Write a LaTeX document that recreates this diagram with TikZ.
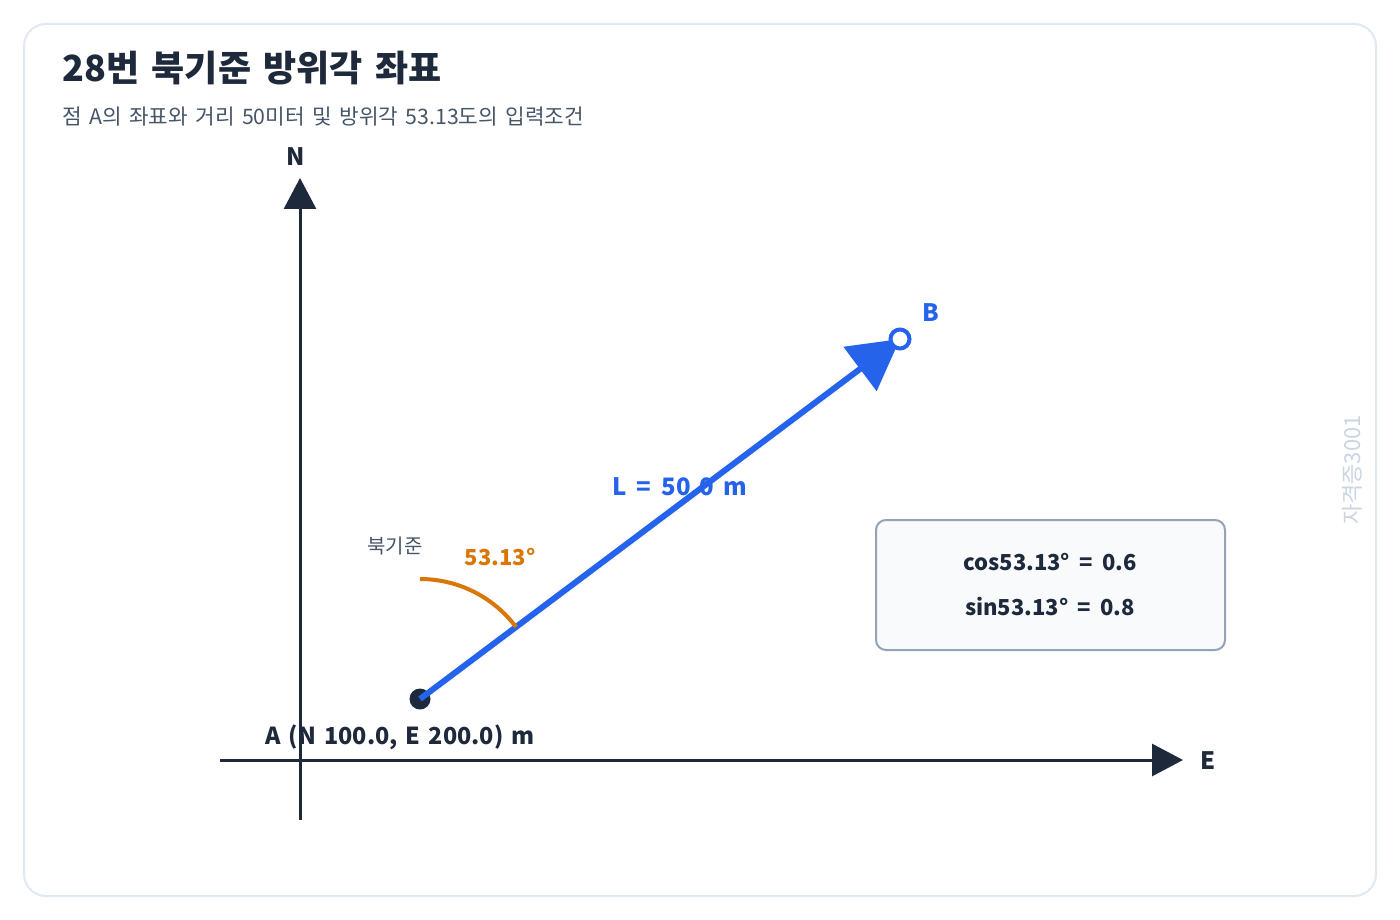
\documentclass[tikz,border=0pt]{standalone}
\usepackage{fontspec}
\setmainfont{Noto Sans CJK KR}
\usetikzlibrary{arrows.meta}
\definecolor{ink}{HTML}{1E293B}
\definecolor{blu}{HTML}{2563EB}
\definecolor{org}{HTML}{D97706}
\definecolor{sub}{HTML}{475569}
\definecolor{boxline}{HTML}{94A3B8}
\definecolor{boxfill}{HTML}{F8FAFC}
\definecolor{frame}{HTML}{E2E8F0}
\definecolor{wm}{HTML}{CBD5E1}
\newcommand{\fsz}[1]{\fontsize{#1}{#1}\selectfont\spaceskip=0.35em\relax}
\newcommand{\fszw}[1]{\fontsize{#1}{#1}\selectfont\spaceskip=0.42em\relax}
\tikzset{
  axis/.style={draw=ink, line width=3pt},
  axistip/.style={-{Triangle[length=31pt,width=32pt]}},
  lbl/.style={inner sep=0pt, font=\bfseries\fsz{24}},
}
\begin{document}
\begin{tikzpicture}[x=1pt,y=-1pt]
\useasboundingbox (0,0) rectangle (1400,920);
\fill[white] (0,0) rectangle (1400,920);
\draw[frame, line width=2pt, rounded corners=22pt, fill=white] (24,24) rectangle (1376,896);
\node[anchor=base west, inner sep=0pt, text=ink, font=\bfseries\fsz{36}] (title) at (62,82) {28번 북기준 방위각 좌표};
\node[anchor=base west, inner sep=0pt, text=sub, font=\fsz{21.3}] (subtitle) at (62,125) {점 A의 좌표와 거리 50미터 및 방위각 53.13도의 입력조건};
\node[rotate=90, inner sep=0pt, text=wm, font=\fsz{22}] (wmark) at (1352,470) {자격증3001};
% axes
\coordinate (Nbot) at (300,820);
\coordinate (Ntop) at (300,178);
\coordinate (Eleft) at (220,760);
\coordinate (Eright) at (1183,760);
\draw[axis, axistip] (Nbot) -- (Ntop);
\draw[axis, axistip] (Eleft) -- (Eright);
\node[lbl, text=ink] (Nl) at (296,157) {N};
\node[lbl, text=ink] (El) at (1208,761) {E};
% points
\node[circle, fill=ink, minimum size=21pt, inner sep=0pt] (A) at (420,699) {};
\coordinate (Bc) at (900,339);
\draw[blu, line width=6pt, -{Triangle[length=50pt,width=54pt]}] (A.center) -- (Bc);
\node[circle, draw=blu, fill=white, line width=4pt, minimum size=19pt, inner sep=0pt] (B) at (Bc) {};
\node[lbl, text=blu] (Bl) at (931,313) {B};
% angle arc
\draw[org, line width=4pt] (420,579) arc[start angle=-90, end angle=-36.87, radius=120];
\node[inner sep=0pt, text=sub, font=\fsz{20}] (nref) at (395,546) {북기준};
\node[inner sep=0pt, text=org, font=\bfseries\fsz{22}] (ang) at (500,557) {53.13°};
\node[inner sep=0pt, text=blu, font=\bfseries\fszw{24}] (L) at (680,487) {L = 50.0 m};
\node[inner sep=0pt, text=ink, font=\bfseries\fsz{23.4}] (Al) at (400,737) {A (N 100.0, E 200.0) m};
% box
\draw[boxline, fill=boxfill, line width=2pt, rounded corners=10pt] (876,520) rectangle (1225,650);
\node[inner sep=0pt, text=ink, font=\bfseries\fszw{22}] (cosl) at (1050,562) {cos53.13° = 0.6};
\node[inner sep=0pt, text=ink, font=\bfseries\fszw{22}] (sinl) at (1050,607) {sin53.13° = 0.8};
\end{tikzpicture}
\end{document}
